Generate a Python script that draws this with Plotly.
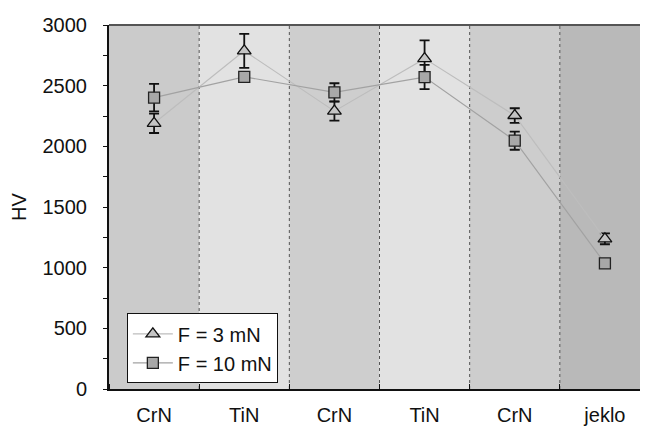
import plotly.graph_objects as go

categories = ["CrN", "TiN", "CrN", "TiN", "CrN", "jeklo"]
hv_3mN = [2190, 2787, 2290, 2723, 2254, 1238]
err_3mN = [80, 140, 78, 150, 60, 45]
hv_10mN = [2401, 2573, 2445, 2571, 2047, 1035]
err_10mN = [113, 40, 75, 100, 75, 0]
band_colors = ["#cbcbcb", "#e2e2e2", "#cecece", "#e2e2e2", "#cdcdcd", "#b9b9b9"]

x_pos = [i + 0.5 for i in range(len(categories))]

fig = go.Figure()

fig.add_trace(go.Scatter(
    x=x_pos, y=hv_3mN, mode="lines+markers", name="F = 3 mN",
    line=dict(color="#bdbdbd", width=1.2),
    marker=dict(symbol="triangle-up", size=12, color="#c4c4c4",
                line=dict(color="#111111", width=1.3)),
    error_y=dict(type="data", array=err_3mN, color="#111111", thickness=1.8, width=5),
))
fig.add_trace(go.Scatter(
    x=x_pos, y=hv_10mN, mode="lines+markers", name="F = 10 mN",
    line=dict(color="#a2a2a2", width=1.2),
    marker=dict(symbol="square", size=11, color="#a8a8a8",
                line=dict(color="#222222", width=1.3)),
    error_y=dict(type="data", array=err_10mN, color="#111111", thickness=1.8, width=5),
))

shapes = []
for i, c in enumerate(band_colors):
    shapes.append(dict(type="rect", xref="x", yref="paper", x0=i, x1=i + 1, y0=0, y1=1,
                       fillcolor=c, line=dict(width=0), layer="below"))
for i in range(1, len(categories)):
    shapes.append(dict(type="line", xref="x", yref="paper", x0=i, x1=i, y0=0, y1=1,
                       line=dict(color="#555555", width=1, dash="dot"), layer="below"))
shapes.append(dict(type="line", xref="paper", yref="paper", x0=0, x1=1, y0=1, y1=1,
                   line=dict(color="#555555", width=2)))

fig.update_layout(
    width=648, height=427,
    margin=dict(l=96, r=6, t=15, b=46),
    paper_bgcolor="white", plot_bgcolor="white",
    font=dict(family="Liberation Sans, Arial", size=20, color="#111111"),
    shapes=shapes,
    showlegend=True,
    legend=dict(x=0.033, y=0.208, xanchor="left", yanchor="top",
                bgcolor="white", bordercolor="#111111", borderwidth=1,
                font=dict(size=20), tracegroupgap=0, itemwidth=40),
    xaxis=dict(range=[0, 6], tickvals=x_pos, ticktext=categories,
               ticks="", showgrid=False, zeroline=False,
               showline=True, linecolor="#111111", linewidth=2,
               minor=dict(tickvals=list(range(0, 7)), ticks="inside", ticklen=5,
                          tickcolor="#111111", showgrid=False),
               ticklabelstandoff=7),
    yaxis=dict(range=[0, 3000], dtick=500, ticks="outside", ticklen=4,
               tickcolor="#111111", showgrid=False, zeroline=False,
               showline=True, linecolor="#111111", linewidth=2,
               minor=dict(dtick=250, ticks="outside", ticklen=4, tickcolor="#111111"),
               title=dict(text="HV", font=dict(size=20), standoff=14),
               ticklabelstandoff=12),
)

fig.write_html("out.html")
